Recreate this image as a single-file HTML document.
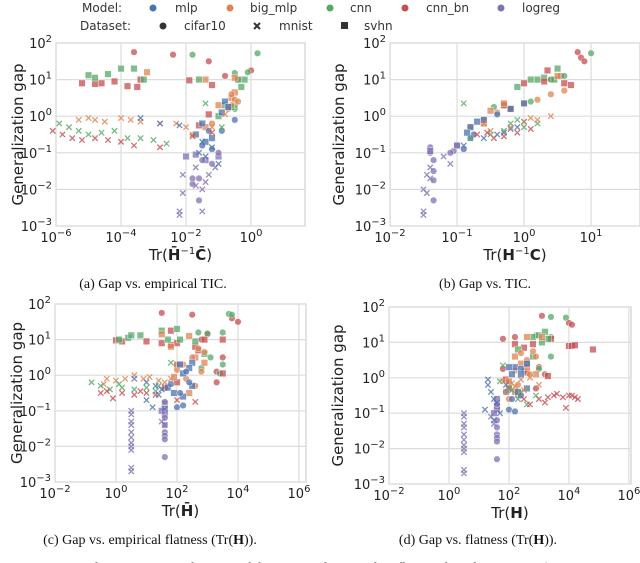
<!DOCTYPE html>
<html><head><meta charset="utf-8"><style>
html,body{margin:0;padding:0;background:#fff;}
svg{display:block;font-family:"DejaVu Sans","Liberation Sans",sans-serif;}
.cap{font-family:"Liberation Serif",serif;font-size:14px;fill:#111;}
</style></head><body>
<svg id="fig" width="640" height="563" viewBox="0 0 640 563" xmlns="http://www.w3.org/2000/svg">
<g id="legend" font-size="12" fill="#333">
<text x="82" y="12">Model:</text>
<circle cx="153" cy="8" r="3.5" fill="#4c72b0"/><text x="175" y="12">mlp</text>
<circle cx="230" cy="8" r="3.5" fill="#dd8452"/><text x="250" y="12">big_mlp</text>
<circle cx="330" cy="8" r="3.5" fill="#55a868"/><text x="350" y="12">cnn</text>
<circle cx="405" cy="8" r="3.5" fill="#c44e52"/><text x="426" y="12">cnn_bn</text>
<circle cx="501" cy="8" r="3.5" fill="#8172b3"/><text x="522" y="12">logreg</text>
<text x="80" y="30">Dataset:</text>
<circle cx="163" cy="26" r="3.5" fill="#333"/><text x="184" y="30">cifar10</text>
<path d="M254 23 L260 29 M260 23 L254 29" stroke="#333" stroke-width="2"/><text x="279" y="30">mnist</text>
<rect x="341" y="22" width="7" height="7" fill="#333"/><text x="364" y="30">svhn</text>
</g>
<text class="cap" x="153" y="288" text-anchor="middle">(a) Gap vs. empirical TIC.</text>
<text class="cap" x="485" y="288" text-anchor="middle">(b) Gap vs. TIC.</text>
<text class="cap" x="150" y="544" text-anchor="middle">(c) Gap vs. empirical flatness (Tr(<tspan font-weight="bold">H</tspan>)).</text>
<text class="cap" x="478" y="544" text-anchor="middle">(d) Gap vs. flatness (Tr(<tspan font-weight="bold">H</tspan>)).</text>
<text class="cap" x="0" y="572">Figure 2: Generalization gap as a function of the empirical TIC and its flatness-based estimation (see</text>
</svg>
<script>
const colors = {mlp:"#4c72b0", big_mlp:"#dd8452", cnn:"#55a868", cnn_bn:"#c44e52", logreg:"#8172b3"};
// groups: [model, dataset, log10 x values, log10 y values]
const dataA = [
["cnn_bn","cifar10",[-3.6,-2.4,-1.3,-0.8,-0.4,0],[1.75,1.68,1.5,1.1,1.0,1.25]],
["cnn","cifar10",[-1.8,0.2,-0.5,-0.1,-0.5,-0.5],[1.68,1.72,1.18,1.2,0.2,0.3]],
["cnn_bn","svhn",[-5.2,-4.8,-4.6,-4.2,-3.8,-3.5,-3.4,-1.9,-1.2,-1.3,-1.6],[0.9,0.88,0.9,0.95,0.82,0.8,1.0,0.98,0.85,0.05,-0.25]],
["cnn","svhn",[-5,-4.8,-4.4,-4.0,-3.6,-3.3,-1.6,-0.4,-0.2,-0.3,-0.8,-1.0,-0.6],[1.12,1.05,1.15,1.3,1.3,1.0,1.0,1.0,1.0,0.8,0.3,0.0,0.25]],
["big_mlp","svhn",[-3.2,-0.5,-1.4,-0.5,-0.6,-1.4,-1.0],[1.2,1.05,1.0,0.65,0.5,-0.3,0.3]],
["big_mlp","cifar10",[-0.6,-0.5,-0.4,-0.6,-0.7,-1.2],[0.6,0.45,0.4,0.3,0.2,-0.2]],
["mlp","svhn",[-0.8,-0.7,-0.9,-1.4,-1.7,-1.5,-1.2],[0.4,0.25,0.1,-0.7,-0.5,-0.2,-0.6]],
["mlp","cifar10",[-0.9,-0.5,-1.2,-1.5,-1.3],[-0.4,-0.1,-0.9,-0.8,-0.4]],
["logreg","svhn",[-2.0,-1.7,-1.4,-1.0],[-1.1,-1.05,-1.2,-1.1]],
["logreg","cifar10",[-1.5,-1.2,-1.0,-1.6,-1.8,-1.8,-1.6],[-1.2,-1.3,-1.0,-1.7,-1.85,-1.7,-2.3]],
["logreg","mnist",[-2.1,-2.1,-2.2,-2.2,-1.5,-1.5,-1.7,-1.4,-1.3,-1.7,-1.1],[-1.6,-2.1,-2.6,-2.7,-2.6,-2.0,-1.9,-1.8,-1.6,-1.4,-1.4]],
["big_mlp","mnist",[-5.3,-5,-4.8,-4.5,-4,-3.7,-3.4,-2.8,-2.3,-2,-1.8,-1.2,-0.8],[-0.1,-0.05,-0.1,-0.15,-0.05,-0.1,-0.15,-0.2,-0.2,-0.3,-0.5,-0.3,0.05]],
["cnn","mnist",[-5.9,-5.6,-5.3,-5.0,-4.6,-4.2,-3.8,-3.4,-3.0,-2.6,-1.4,-0.9],[-0.2,-0.3,-0.4,-0.5,-0.45,-0.4,-0.6,-0.6,-0.65,-0.75,0.35,-0.3]],
["cnn_bn","mnist",[-6.1,-5.8,-5.5,-5.2,-4.8,-4.4,-4.0,-3.6,-2.8,-1.8,-1.2],[-0.4,-0.5,-0.6,-0.65,-0.6,-0.65,-0.7,-0.8,-0.85,-0.55,-0.45]],
["mlp","mnist",[-3.4,-2.8,-2.2,-1.6,-1.4,-1.0,-1.5,-1.2],[-0.05,-0.2,-0.25,-1.0,-1.1,-1.3,-0.7,-0.85]]
];
const dataB = [
["cnn_bn","cifar10",[0.8,0.85,0.9,0.55,0.4],[1.75,1.6,1.5,1.1,1.0]],
["cnn","cifar10",[1.0,0.6,0.4,-0.45,-0.3,0.1],[1.72,1.1,1.0,0.25,0.3,0.4]],
["cnn","svhn",[0.5,0.3,0.1,-0.1,0.2,0.45],[1.3,1.05,1.0,0.8,1.0,1.0]],
["cnn_bn","svhn",[0.35,0.0,0.6,0.7,0.3,-0.3,-0.2],[1.25,0.9,0.9,0.85,0.95,0.3,0.2]],
["big_mlp","cifar10",[0.6,0.4,0.2,0.0,-0.2,-0.4,-0.6,-0.8],[0.7,0.6,0.45,0.35,0.2,0.1,-0.1,-0.3]],
["big_mlp","svhn",[0.5,-0.3,-0.5,-0.6],[1.1,0.35,0.15,-0.2]],
["mlp","svhn",[0.0,-0.2,-0.7,-0.8,-0.85,-0.6],[0.35,0.2,-0.15,-0.3,-0.45,-0.1]],
["mlp","cifar10",[-0.9,-0.75,-0.4,-0.8],[-0.9,-0.5,0.05,-0.6]],
["logreg","cifar10",[-1.0,-1.05,-1.1,-1.4,-1.35,-1.35,-1.35,-1.35,-1.4],[-0.8,-0.95,-1.0,-1.0,-1.2,-1.5,-1.75,-2.3,-0.85]],
["logreg","svhn",[-1.4,-1.0],[-0.95,-0.8]],
["logreg","mnist",[-1.5,-1.45,-1.4,-1.45,-1.5,-1.5,-1.1,-1.2,-1.4],[-2.0,-2.1,-1.7,-1.6,-2.6,-2.7,-1.3,-1.1,-1.4]],
["mlp","mnist",[-0.9,-0.6,-0.4,-0.2,0,-0.1,-0.3],[-0.8,-0.6,-0.5,-0.35,-0.15,-0.3,-0.45]],
["cnn","mnist",[-0.8,-0.5,-0.3,0,-0.2,-0.9,-0.1,0.2],[-0.6,-0.5,-0.4,-0.3,-0.2,0.35,-0.1,-0.2]],
["big_mlp","mnist",[-0.5,-0.2,0,0.2,0.4,0.1,-0.6],[-0.4,-0.3,-0.15,-0.1,0.0,-0.05,-0.2]],
["cnn_bn","mnist",[-0.7,-0.45,-0.3,-0.1,0.1,-0.55],[-0.5,-0.6,-0.55,-0.45,-0.35,-0.45]]
];
const dataC = [
["cnn_bn","cifar10",[1.5,2.5,3.8,4.0,3.0,2.8,3.5,3.3,3.3,2.0],[1.75,1.7,1.6,1.5,1.15,1.0,0.5,0.1,-0.2,0.28]],
["cnn","cifar10",[3.7,3.8,2.7,3.0,3.5,3.5,3.4,2.8,3.1],[1.72,1.7,1.2,1.17,1.2,0.3,0.05,0.2,0.5]],
["cnn_bn","svhn",[0.0,0.2,1.0,1.5,1.8,2.0,2.9,3.5,1.8,3.5,2.7,2.6,1.6,2.0],[0.98,0.95,0.95,0.9,0.85,0.9,1.0,1.0,1.25,0.05,0.7,0.8,-0.35,-0.2]],
["cnn","svhn",[0.1,0.4,0.5,0.8,1.5,2.0,2.6,2.1,1.7,2.9],[1.0,1.05,1.12,1.12,1.25,1.3,0.95,1.0,1.0,0.6]],
["big_mlp","svhn",[1.5,2.4,1.8,2.0,2.6,2.9,1.9,2.4],[1.15,1.1,0.8,0.3,0.5,0.35,-0.05,-0.5]],
["big_mlp","cifar10",[2.7,2.9,2.5,2.2,2.0,2.8,2.3,2.6],[0.75,0.65,0.5,0.3,0.15,0.1,-0.1,-0.3]],
["mlp","svhn",[2.5,2.4,2.1,2.2,2.5,1.7,1.9,2.2],[0.35,0.2,0.3,0.05,-0.3,-0.35,-0.5,-0.6]],
["mlp","cifar10",[2.0,2.2,2.1,2.4,1.8,2.3],[-0.9,-0.85,-0.5,-0.2,-0.25,0.1]],
["logreg","svhn",[1.6,1.6,1.5,1.6],[-0.8,-0.95,-1.0,-1.1]],
["logreg","cifar10",[1.6,1.6,1.6,1.6,1.6,1.6,1.6],[-0.75,-1.2,-1.4,-1.6,-1.7,-1.8,-2.3]],
["logreg","mnist",[0.5,0.5,0.5,0.5,0.5,0.5,0.5,0.5,0.5,0.5,0.5,1.6,1.5],[-1.0,-1.1,-1.3,-1.4,-1.6,-1.75,-1.9,-2.0,-2.1,-2.6,-2.7,-1.4,-1.3]],
["big_mlp","mnist",[-0.3,0,0.3,0.6,0.9,1.1,1.4,1.6,1.8,-0.4],[-0.1,-0.15,-0.1,0.0,-0.1,-0.05,-0.15,-0.2,-0.1,-0.25]],
["cnn","mnist",[-0.8,-0.5,-0.2,0.2,0.6,1.0,1.3,1.8,1.4,0.1],[-0.2,-0.3,-0.4,-0.35,-0.4,-0.35,-0.45,0.35,-0.3,-0.25]],
["cnn_bn","mnist",[-0.5,-0.3,-0.1,0.2,0.6,1.0,1.3,2.0,2.6,0.8],[-0.5,-0.45,-0.65,-0.5,-0.55,-0.5,-0.55,-0.7,-0.75,-0.45]],
["mlp","mnist",[0.6,1.0,1.3,1.5,1.4,1.0,1.2,1.6],[-0.1,-0.2,-0.3,-0.4,-0.55,-0.7,-0.9,-0.95]]
];
const dataD = [
["cnn_bn","cifar10",[3.1,4.0,4.1,1.8,2.2,2.6,3.0,3.2,2.9,1.8],[1.75,1.55,1.5,1.1,1.15,0.4,0.3,0.1,-0.3,0.25]],
["cnn","cifar10",[3.4,3.9,2.9,3.4,3.4,3.0,2.5],[1.72,1.7,1.2,1.15,0.6,0.25,0.2]],
["cnn_bn","svhn",[2.2,2.5,2.8,3.4,4.0,4.1,4.2,4.8,3.3,2.6,1.9,2.0],[0.95,0.85,0.95,1.1,0.9,0.9,0.92,0.8,0.05,0.15,-0.05,-0.3]],
["cnn","svhn",[2.3,2.8,3.0,3.2,3.3,3.1,2.8],[0.8,1.15,1.2,1.3,1.1,1.0,0.6]],
["big_mlp","svhn",[2.6,3.1,2.2,2.4,2.6,2.9,2.0,2.2],[1.15,1.15,0.6,0.4,0.3,0.1,-0.1,-0.4]],
["big_mlp","cifar10",[2.8,2.9,2.4,2.6,2.2,2.7,2.3,2.0,2.3],[0.75,0.6,0.7,0.5,0.2,0.1,-0.2,-0.6,-0.5]],
["mlp","svhn",[2.2,2.4,2.6,2.1,2.3,2.6,2.4,2.0],[0.3,0.25,0.4,0.1,-0.4,-0.3,0.1,0.3]],
["mlp","cifar10",[2.0,2.2,2.4,2.1,1.9],[-0.9,-0.95,-0.5,-0.6,-0.4]],
["logreg","svhn",[1.6,1.6,1.6,1.5],[-0.6,-0.8,-0.9,-1.0]],
["logreg","cifar10",[1.6,1.6,1.6,1.6,1.6,1.6,1.6],[-0.75,-1.2,-1.4,-1.6,-1.7,-1.8,-2.3]],
["logreg","mnist",[0.5,0.5,0.5,0.5,0.5,0.5,0.5,0.5,0.5,0.5,0.5,1.5,1.4],[-1.0,-1.1,-1.3,-1.4,-1.6,-1.75,-1.9,-2.0,-2.1,-2.6,-2.7,-1.3,-1.1]],
["mlp","mnist",[1.3,1.3,1.4,1.5,1.6,1.2,1.5,1.7,1.9],[-0.05,-0.2,-0.4,-0.6,-0.7,-0.9,-1.2,-1.0,-0.2]],
["cnn","mnist",[1.8,1.7,2.0,2.3,2.6,2.4,2.9,2.1],[0.35,-0.1,-0.3,-0.6,-0.75,-0.4,-0.5,-0.35]],
["big_mlp","mnist",[1.8,2.1,2.4,2.7,3.0,2.5,2.2,1.9],[-0.1,-0.15,-0.05,0.0,-0.2,-0.35,-0.25,-0.4]],
["cnn_bn","mnist",[2.5,3.0,3.3,3.5,3.6,3.8,3.9,4.0,4.1,4.2,4.3,3.2,2.7],[-0.6,-0.6,-0.55,-0.5,-0.45,-0.55,-0.85,-0.5,-0.5,-0.55,-0.6,-0.7,-0.75]]
];
const xTicksA = [-6,-4,-2,0];
const xTicksB = [-2,-1,0,1];
const xTicksCD = [-2,0,2,4,6];
const yTicks = [-3,-2,-1,0,1,2];

const NS = "http://www.w3.org/2000/svg";
const svg = document.getElementById("fig");
function mk(tag, attrs, parent){
  const e = document.createElementNS(NS, tag);
  for (const k in attrs) e.setAttribute(k, attrs[k]);
  (parent||svg).appendChild(e);
  return e;
}
function powText(parent, x, y, exp, anchor){
  const t = mk("text", {x:x, y:y, "text-anchor":anchor, "font-size":"13", fill:"#222"}, parent);
  t.appendChild(document.createTextNode("10"));
  const s = mk("tspan", {dy:"-6", "font-size":"10"}, t);
  s.textContent = exp < 0 ? "\u2212" + (-exp) : String(exp);
  return t;
}
function panel(id, data, box, xmin, xmax, xTicks, xlabelParts, ylabelX){
  const g = mk("g", {});
  
  
  const {x0,x1,y0,y1} = box;
  const sx = v => x0 + (v - xmin) / (xmax - xmin) * (x1 - x0);
  const sy = v => y1 - (v + 3) / 5 * (y1 - y0);
  const bg = mk("rect", {x:x0, y:y0, width:x1-x0, height:y1-y0, fill:"#fff", stroke:"#d0d0d0", "stroke-width":"1.2"}, g);
  
  
  for (const t of xTicks){
    const l = mk("line", {x1:sx(t), x2:sx(t), y1:y0, y2:y1, stroke:"#dcdcdc", "stroke-width":"1.2"}, g);
    
    
    const tl = powText(g, sx(t), y1 + 16, t, "middle");
    
    
  }
  for (const t of yTicks){
    const l = mk("line", {x1:x0, x2:x1, y1:sy(t), y2:sy(t), stroke:"#dcdcdc", "stroke-width":"1.2"}, g);
    
    
    const tl = powText(g, x0 - 4, sy(t) + 5, t, "end");
    
    
  }
  const pts = mk("g", {"fill-opacity":"0.75", "stroke-opacity":"0.8"}, g);
  
  
  for (const grp of data){
    const [model, ds, xs, ys] = grp;
    const c = colors[model];
    for (let i = 0; i < xs.length; i++){
      const px = sx(xs[i]), py = sy(ys[i]);
      let m;
      if (ds === "cifar10") m = mk("circle", {cx:px, cy:py, r:3.3, fill:c, stroke:"#fff", "stroke-width":"0.5"}, pts);
      else if (ds === "svhn") m = mk("rect", {x:px-3.3, y:py-3.3, width:6.6, height:6.6, fill:c, stroke:"#fff", "stroke-width":"0.5"}, pts);
      else m = mk("path", {d:`M${px-2.7} ${py-2.7}L${px+2.7} ${py+2.7}M${px+2.7} ${py-2.7}L${px-2.7} ${py+2.7}`, stroke:c, "stroke-width":"1.3", fill:"none"}, pts);
      
      
    }
  }
  const xl = mk("text", {x:(x0+x1)/2, y:y1 + 34, "text-anchor":"middle", "font-size":"15", fill:"#222"}, g);
  
  
  for (const p of xlabelParts){
    const s = mk("tspan", p[1], xl); s.textContent = p[0];
  }
  const yl = mk("text", {x:0, y:0, transform:`translate(${ylabelX},${(y0+y1)/2}) rotate(-90)`, "text-anchor":"middle", "font-size":"15", fill:"#222"}, g);
  yl.textContent = "Generalization gap";
  
  
}
const B = {"font-weight":"bold"}, N = {}, SUP = {dy:"-6","font-size":"10"}, DN = {dy:"6"};
panel("a", dataA, {x0:56,x1:305,y0:43,y1:226}, -6, 1.66, xTicksA,
  [["Tr(",N],["H\u0304",B],["\u22121",SUP],["C\u0304",Object.assign({},B,DN)],[")",N]], 23);
panel("b", dataB, {x0:390,x1:640,y0:43,y1:226}, -2, 1.73, xTicksB,
  [["Tr(",N],["H",B],["\u22121",SUP],["C",Object.assign({},B,DN)],[")",N]], 344);
panel("c", dataC, {x0:55,x1:306,y0:304,y1:482}, -2, 6.23, xTicksCD,
  [["Tr(",N],["H\u0304",B],[")",N]], 22);
panel("d", dataD, {x0:389,x1:631,y0:307,y1:484}, -2, 6.07, xTicksCD,
  [["Tr(",N],["H",B],[")",N]], 343);
</script>
</body></html>
